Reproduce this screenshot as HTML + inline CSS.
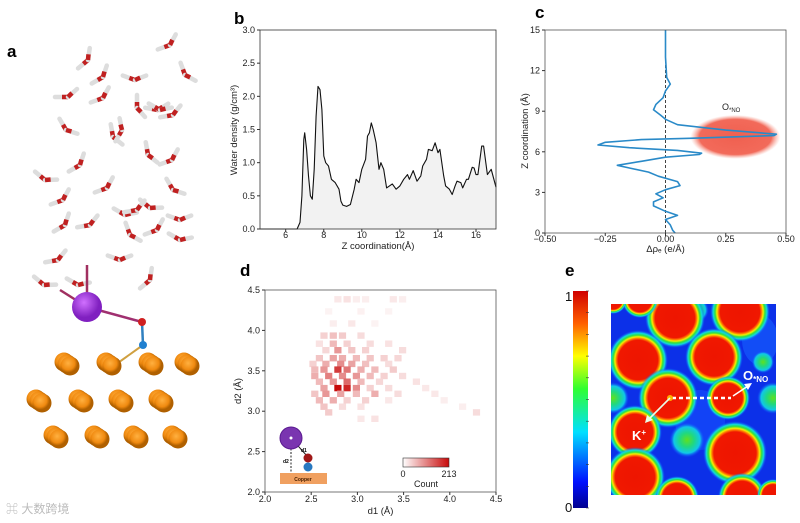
<!DOCTYPE html>
<html><head><meta charset="utf-8">
<style>
html,body{margin:0;padding:0;background:#fff;}
svg{display:block;font-family:"Liberation Sans","DejaVu Sans",sans-serif;}
.tk{font-size:9px;fill:#222;}
.lbl{font-size:9.5px;fill:#222;}
.pl{font-size:17px;font-weight:bold;fill:#000;}
</style></head>
<body>
<svg id="fig" width="800" height="523" viewBox="0 0 800 523">
<defs>
  <radialGradient id="blob">
    <stop offset="0" stop-color="#ee1500"/>
    <stop offset="0.66" stop-color="#f01800"/>
    <stop offset="0.72" stop-color="#ff7a00"/>
    <stop offset="0.77" stop-color="#f4f000"/>
    <stop offset="0.83" stop-color="#30e040"/>
    <stop offset="0.9" stop-color="#10d8e0"/>
    <stop offset="1" stop-color="#1040ff" stop-opacity="0"/>
  </radialGradient>
  <radialGradient id="gblob">
    <stop offset="0" stop-color="#60e020"/>
    <stop offset="0.4" stop-color="#20d880"/>
    <stop offset="0.75" stop-color="#10c8e8"/>
    <stop offset="1" stop-color="#1040ff" stop-opacity="0"/>
  </radialGradient>
  <radialGradient id="ellg">
    <stop offset="0" stop-color="#f06050"/>
    <stop offset="0.8" stop-color="#f26a5a"/>
    <stop offset="1" stop-color="#f8a090" stop-opacity="0"/>
  </radialGradient>
  <linearGradient id="jet" x1="0" y1="1" x2="0" y2="0">
    <stop offset="0" stop-color="#00008f"/>
    <stop offset="0.12" stop-color="#0010ff"/>
    <stop offset="0.35" stop-color="#00e0ff"/>
    <stop offset="0.55" stop-color="#30ff30"/>
    <stop offset="0.7" stop-color="#ffff00"/>
    <stop offset="0.85" stop-color="#ff6000"/>
    <stop offset="1" stop-color="#d00000"/>
  </linearGradient>
  <linearGradient id="reds" x1="0" x2="1">
    <stop offset="0" stop-color="#fff"/>
    <stop offset="1" stop-color="#c80a0a"/>
  </linearGradient>
  <radialGradient id="cu" cx="0.4" cy="0.35">
    <stop offset="0" stop-color="#ffb040"/>
    <stop offset="0.7" stop-color="#f08a10"/>
    <stop offset="1" stop-color="#b06000"/>
  </radialGradient>
  <radialGradient id="kball" cx="0.4" cy="0.35">
    <stop offset="0" stop-color="#d070ff"/>
    <stop offset="1" stop-color="#8020c0"/>
  </radialGradient>
  <clipPath id="eclip"><rect x="611" y="304" width="165" height="191"/></clipPath>
</defs>

<text class="pl" x="7" y="57">a</text>
<text class="pl" x="234" y="24">b</text>
<text class="pl" x="535" y="18">c</text>
<text class="pl" x="240" y="276">d</text>
<text class="pl" x="565" y="276">e</text>

<g id="pa"></g>
<g id="pb"></g>
<g id="pc"></g>
<g id="pd"></g>
<g id="pe"></g>

<text x="6" y="513" style="font-size:12px;fill:#bbb;font-family:'Liberation Sans','Noto Sans CJK SC',sans-serif">⌘ 大数跨境</text>
</svg>

<script>
const bZ = [4.65,6.6,6.75,6.85,6.95,7.0,7.1,7.2,7.3,7.4,7.5,7.6,7.7,7.8,7.9,8.0,8.1,8.25,8.4,8.6,8.8,8.9,9.0,9.2,9.4,9.6,9.7,9.85,10.0,10.2,10.3,10.4,10.5,10.6,10.75,10.9,11.0,11.15,11.3,11.6,11.8,12.0,12.2,12.4,12.5,12.7,12.9,13.1,13.2,13.4,13.5,13.7,13.85,14.0,14.1,14.3,14.4,14.6,14.75,14.9,15.0,15.2,15.3,15.5,15.6,15.8,15.9,16.0,16.1,16.3,16.4,16.6,16.8,17.05];
const bDensity = [0,0,0.1,0.5,1.35,1.45,1.2,0.8,0.5,0.45,0.9,1.7,2.15,2.1,1.8,1.1,1.0,0.95,0.75,0.7,0.6,0.42,0.36,0.34,0.37,0.6,0.75,0.7,0.9,1.05,1.4,1.45,1.6,1.5,1.3,0.9,1.0,0.9,0.62,0.68,0.6,0.65,0.75,0.82,0.75,0.88,0.72,0.8,0.95,1.05,1.2,1.18,1.3,1.15,1.2,0.8,0.65,0.6,0.52,0.65,0.72,0.7,0.62,0.75,0.75,0.93,0.92,0.82,0.82,1.25,1.25,0.82,0.9,0.63];
const bXTicks = [6,8,10,12,14,16];
const bYTicks = [0.0,0.5,1.0,1.5,2.0,2.5,3.0];

const cZ = [15,13,11.5,11,10.5,10,9.5,9.1,8.7,8.4,8.0,7.6,7.3,7.2,7.0,6.9,6.7,6.5,6.3,6.1,5.9,5.8,5.6,5.3,5.0,4.8,4.5,4.2,3.8,3.5,3.2,2.9,2.6,2.3,2.0,1.6,1.3,1.0,0.6,0.2,0];
const cRho = [0,0,0.005,0.02,0,-0.01,-0.04,-0.05,-0.02,0,0.05,0.25,0.46,0.45,0.1,-0.1,-0.25,-0.28,-0.15,0.05,0.15,0.14,0,-0.1,-0.2,-0.15,-0.07,-0.03,0.05,0.06,0,-0.04,-0.01,-0.05,-0.05,0,0.05,0,0.02,0.03,0.04];
const cXTicks = [-0.5,-0.25,0,0.25,0.5];
const cXLabels = ["\u22120.50","\u22120.25","0.00","0.25","0.50"];
const cYTicks = [0,3,6,9,12,15];

const dD1 = [2.75,2.85,2.95,3.05,3.35,3.45, 2.65,3.0,3.3, 2.7,2.9,3.15, 2.6,2.7,2.8,3.0, 2.55,2.7,2.85,3.1,3.3, 2.62,2.75,2.9,3.05,3.45, 2.55,2.7,2.8,2.95,3.1,3.25,3.4, 2.48,2.62,2.78,2.9,3.05,3.3, 2.5,2.6,2.75,2.85,3.0,3.15,3.35, 2.5,2.65,2.8,2.95,3.1,3.25,3.45, 2.55,2.7,2.85,3.0,3.2,3.6, 2.6,2.75,2.85,2.95,3.1,3.3,3.7, 2.5,2.62,2.78,2.95,3.15,3.4,3.8, 2.55,2.7,2.85,3.05,3.3,3.9, 2.6,2.8,3.0,4.1, 2.65,4.25, 3.0,3.15];
const dD2 = [4.35,4.35,4.35,4.35,4.35,4.35, 4.2,4.2,4.2, 4.05,4.05,4.05, 3.9,3.9,3.9,3.9, 3.8,3.8,3.8,3.8,3.8, 3.72,3.72,3.72,3.72,3.72, 3.62,3.62,3.62,3.62,3.62,3.62,3.62, 3.55,3.55,3.55,3.55,3.55,3.55, 3.48,3.48,3.48,3.48,3.48,3.48,3.48, 3.4,3.4,3.4,3.4,3.4,3.4,3.4, 3.33,3.33,3.33,3.33,3.33,3.33, 3.25,3.25,3.25,3.25,3.25,3.25,3.25, 3.18,3.18,3.18,3.18,3.18,3.18,3.18, 3.1,3.1,3.1,3.1,3.1,3.1, 3.02,3.02,3.02,3.02, 2.95,2.95, 2.87,2.87];
const dCount = [20,25,15,15,20,15, 10,12,10, 15,20,10, 40,55,45,30, 25,60,40,30,25, 35,90,50,40,30, 50,80,70,60,50,40,35, 40,70,100,80,55,30, 60,90,170,120,70,60,45, 70,110,100,90,60,40,30, 60,90,130,60,35,25, 80,213,190,100,40,30,20, 50,90,80,60,70,30,20, 60,70,40,40,20,15, 50,30,25,15, 45,30, 20,25];
const dTicks = [2.0,2.5,3.0,3.5,4.0,4.5];

const eBlobX = [675,740,640,638,714,668,728,635,735,635,677,742,613,773];
const eBlobY = [318,312,300,360,357,398,398,432,453,477,498,497,300,495];
const eBlobR = [30,30,18,30,29,30,22,27,32,30,22,24,14,16];
const eGreenX = [687,613,773,696,763];
const eGreenY = [440,398,398,310,362];
const eGreenR = [11,10,10,8,7];

const NS = "http://www.w3.org/2000/svg";
function mk(parent, tag, attrs, text){
  const e = document.createElementNS(NS, tag);
  for (const k in attrs) e.setAttribute(k, attrs[k]);
  if (text !== undefined) e.textContent = text;
  parent.appendChild(e);
  return e;
}

(function(){
  const g = document.getElementById('pb');
  const L=260,R=496,T=30,B=229, xmin=4.65,xmax=17.05,ymin=0,ymax=3;
  const X=v=>L+(v-xmin)/(xmax-xmin)*(R-L), Y=v=>B-(v-ymin)/(ymax-ymin)*(B-T);
  let d = '';
  bZ.forEach((z,i)=>{ d += (i?'L':'M')+X(z).toFixed(1)+','+Y(bDensity[i]).toFixed(1); });
  const fill = mk(g,'path',{d:d+'L'+X(bZ[bZ.length-1])+','+B+'L'+X(bZ[0])+','+B+'Z',fill:'#f2f2f2',stroke:'none'});
  
  
  const line = mk(g,'path',{d:d,fill:'none',stroke:'#111','stroke-width':1.1,'stroke-linejoin':'round'});
  
  
  const fr = mk(g,'rect',{x:L,y:T,width:R-L,height:B-T,fill:'none',stroke:'#333','stroke-width':0.8});
  
  
  bXTicks.forEach(t=>{
    mk(g,'line',{x1:X(t),x2:X(t),y1:B,y2:B+3,stroke:'#333'});
    const tx = mk(g,'text',{x:X(t),y:B+9,'text-anchor':'middle',class:'tk'},String(t));
    
    
  });
  bYTicks.forEach(t=>{
    mk(g,'line',{x1:L-3,x2:L,y1:Y(t),y2:Y(t),stroke:'#333'});
    const tx = mk(g,'text',{x:L-5,y:Y(t)+3,'text-anchor':'end',class:'tk'},t.toFixed(1));
    
    
  });
  const xl = mk(g,'text',{x:(L+R)/2,y:249,'text-anchor':'middle',class:'lbl'},'Z coordination(Å)');
  
  
  const yl = mk(g,'text',{x:0,y:0,'text-anchor':'middle',class:'lbl',transform:'translate(237,130) rotate(-90)'},'Water density (g/cm³)');
  
  
})();

(function(){
  const g = document.getElementById('pc');
  const L=545,R=786,T=30,B=233, xmin=-0.5,xmax=0.5,ymin=0,ymax=15;
  const X=v=>L+(v-xmin)/(xmax-xmin)*(R-L), Y=v=>B-(v-ymin)/(ymax-ymin)*(B-T);
  const el = mk(g,'ellipse',{cx:X(0.29),cy:Y(7.1),rx:45,ry:22,fill:'url(#ellg)'});
  
  
  const dash = mk(g,'line',{x1:X(0),x2:X(0),y1:T,y2:B,stroke:'#444','stroke-width':1,'stroke-dasharray':'3,2'});
  
  
  let d='';
  cZ.forEach((z,i)=>{ d += (i?'L':'M')+X(cRho[i]).toFixed(1)+','+Y(z).toFixed(1); });
  const ln = mk(g,'path',{d:d,fill:'none',stroke:'#2a8ac8','stroke-width':1.6,'stroke-linejoin':'round'});
  
  
  const fr = mk(g,'rect',{x:L,y:T,width:R-L,height:B-T,fill:'none',stroke:'#555','stroke-width':0.8});
  
  
  cXTicks.forEach((t,i)=>{
    mk(g,'line',{x1:X(t),x2:X(t),y1:B,y2:B+3,stroke:'#333'});
    const tx = mk(g,'text',{x:X(t),y:B+9,'text-anchor':'middle',class:'tk'},cXLabels[i]);
    
    
  });
  cYTicks.forEach(t=>{
    mk(g,'line',{x1:L-3,x2:L,y1:Y(t),y2:Y(t),stroke:'#333'});
    const tx = mk(g,'text',{x:L-5,y:Y(t)+3,'text-anchor':'end',class:'tk'},String(t));
    
    
  });
  const xl = mk(g,'text',{x:(L+R)/2,y:252,'text-anchor':'middle',class:'lbl'},'Δρₑ (e/Å)');
  
  
  const yl = mk(g,'text',{x:0,y:0,'text-anchor':'middle',class:'lbl',transform:'translate(528,131) rotate(-90)'},'Z coordination (Å)');
  
  
  const on = mk(g,'text',{x:722,y:110,class:'tk'},'O');
  
  
  mk(on,'tspan',{'font-size':'6','dy':'2'},'*NO');
})();

(function(){
  const g = document.getElementById('pd');
  const L=265,R=496,T=290,B=492, lo=2.0,hi=4.5, bw=0.075;
  const X=v=>L+(v-lo)/(hi-lo)*(R-L), Y=v=>B-(v-lo)/(hi-lo)*(B-T);
  const maxC = 213;
  dD1.forEach((d1,i)=>{
    const f = Math.min(1,dCount[i]/maxC);
    const r = Math.round(255-(255-200)*f), gg=Math.round(255-(255-10)*f), b=Math.round(255-(255-10)*f);
    const c = mk(g,'rect',{x:X(d1).toFixed(1),y:Y(dD2[i]+bw).toFixed(1),width:((R-L)*bw/(hi-lo)+0.3).toFixed(1),height:((B-T)*bw/(hi-lo)+0.3).toFixed(1),fill:`rgb(${r},${gg},${b})`});
    
    
  });
  const fr = mk(g,'rect',{x:L,y:T,width:R-L,height:B-T,fill:'none',stroke:'#555','stroke-width':0.8});
  
  
  dTicks.forEach(t=>{
    mk(g,'line',{x1:X(t),x2:X(t),y1:B,y2:B+3,stroke:'#333'});
    const tx = mk(g,'text',{x:X(t),y:B+10,'text-anchor':'middle',class:'tk'},t.toFixed(1));
    
    
    mk(g,'line',{x1:L-3,x2:L,y1:Y(t),y2:Y(t),stroke:'#333'});
    const ty = mk(g,'text',{x:L-5,y:Y(t)+3,'text-anchor':'end',class:'tk'},t.toFixed(1));
    
    
  });
  const xl = mk(g,'text',{x:(L+R)/2,y:514,'text-anchor':'middle',class:'lbl'},'d1 (Å)');
  
  
  const yl = mk(g,'text',{x:0,y:0,'text-anchor':'middle',class:'lbl',transform:'translate(241,391) rotate(-90)'},'d2 (Å)');
  
  
  const cb = mk(g,'rect',{x:403,y:458,width:46,height:9,fill:'url(#reds)',stroke:'#333','stroke-width':0.6});
  
  
  mk(g,'text',{x:403,y:477,'text-anchor':'middle',class:'tk','font-size':'8'},'0');
  mk(g,'text',{x:449,y:477,'text-anchor':'middle',class:'tk','font-size':'8'},'213');
  const cl = mk(g,'text',{x:426,y:487,'text-anchor':'middle',class:'tk','font-size':'8'},'Count');
  
  
  const ins = mk(g,'g',{});
  
  
  mk(ins,'rect',{x:280,y:473,width:47,height:11,fill:'#f0a060'});
  mk(ins,'text',{x:303,y:481,'text-anchor':'middle','font-size':'5','font-weight':'bold',fill:'#4a2000'},'Copper');
  mk(ins,'line',{x1:291,y1:438,x2:291,y2:473,stroke:'#222','stroke-dasharray':'2,1.5'});
  mk(ins,'line',{x1:291,y1:438,x2:307,y2:456,stroke:'#222'});
  mk(ins,'circle',{cx:291,cy:438,r:11,fill:'#7a35b0',stroke:'#5a1a90'});
  mk(ins,'circle',{cx:291,cy:438,r:1.5,fill:'#fff'});
  mk(ins,'circle',{cx:308,cy:458,r:4.5,fill:'#a01818'});
  mk(ins,'circle',{cx:308,cy:467,r:4.5,fill:'#2878c0'});
  mk(ins,'text',{x:283,y:463,'font-size':'5','font-weight':'bold'},'d2');
  mk(ins,'text',{x:301,y:452,'font-size':'5','font-weight':'bold'},'d1');
})();

(function(){
  const g = document.getElementById('pe');
  const cb = mk(g,'rect',{x:573,y:291,width:15,height:217,fill:'url(#jet)'});
  
  
  for(let i=0;i<=10;i++) mk(g,'line',{x1:586,x2:589,y1:291+i*21.7,y2:291+i*21.7,stroke:'#333','stroke-width':0.6});
  mk(g,'text',{x:565,y:301,'font-size':'13',fill:'#111'},'1');
  mk(g,'text',{x:565,y:512,'font-size':'13',fill:'#111'},'0');
  const m = mk(g,'g',{'clip-path':'url(#eclip)'});
  
  
  mk(m,'rect',{x:611,y:304,width:165,height:191,fill:'#0c30e8'});
  mk(m,'ellipse',{cx:700,cy:420,rx:25,ry:30,fill:'#1850ff',opacity:0.6});
  mk(m,'ellipse',{cx:760,cy:340,rx:18,ry:25,fill:'#1860ff',opacity:0.6});
  eGreenX.forEach((x,i)=>{
    const c = mk(m,'circle',{cx:x,cy:eGreenY[i],r:eGreenR[i]*1.6,fill:'url(#gblob)'});
    
    
  });
  eBlobX.forEach((x,i)=>{
    const c = mk(m,'circle',{cx:x,cy:eBlobY[i],r:eBlobR[i],fill:'url(#blob)'});
    
    
  });
  mk(m,'line',{x1:672,y1:398,x2:731,y2:398,stroke:'#fff','stroke-width':2.5,'stroke-dasharray':'4,3'});
  mk(m,'circle',{cx:670,cy:398,r:3,fill:'#ffb000'});
  mk(m,'line',{x1:670,y1:398,x2:648,y2:420,stroke:'#e8ffe8','stroke-width':1.6});
  mk(m,'path',{d:'M645,423 L647,415 L653,420 Z',fill:'#e8ffe8'});
  mk(m,'line',{x1:733,y1:396,x2:748,y2:386,stroke:'#fff','stroke-width':1.6});
  mk(m,'path',{d:'M752,383 L744,384 L748,390 Z',fill:'#fff'});
  const k = mk(m,'text',{x:632,y:440,'font-size':'13','font-weight':'bold',fill:'#fff'},'K');
  
  
  mk(k,'tspan',{'font-size':'8',dy:'-5'},'+');
  const o = mk(m,'text',{x:743,y:380,'font-size':'13','font-weight':'bold',fill:'#fff'},'O');
  
  
  mk(o,'tspan',{'font-size':'8',dy:'2'},'*NO');
})();

(function(){
  const g = document.getElementById('pa');
  const wx=[88,170,103,135,158,185,68,103,137,160,173,66,113,122,80,148,172,45,107,150,173,63,125,137,180,65,90,157,130,180,58,120,150,78,44];
  const wy=[60,45,77,80,110,75,97,98,108,110,115,130,137,130,165,155,160,180,188,208,190,200,215,210,220,225,225,230,235,240,260,260,280,285,285];
  const wa=[-40,-20,-30,20,10,70,0,-20,90,30,-10,60,80,-60,-30,80,-20,40,-20,40,60,-20,30,-10,20,-30,-10,-20,70,30,-10,20,-40,30,40];
  wx.forEach((x,i)=>{
    const w = mk(g,'g',{transform:`translate(${x},${wy[i]}) rotate(${wa[i]})`});
    
    
    mk(w,'line',{x1:-13,y1:0,x2:0,y2:0,stroke:'#ddd','stroke-width':4.5,'stroke-linecap':'round'});
    mk(w,'line',{x1:-6,y1:0,x2:0,y2:0,stroke:'#c02020','stroke-width':4.5});
    mk(w,'line',{x1:0,y1:0,x2:9,y2:-8,stroke:'#ddd','stroke-width':4.5,'stroke-linecap':'round'});
    mk(w,'line',{x1:0,y1:0,x2:4,y2:-4,stroke:'#c02020','stroke-width':4.5});
  });
  mk(g,'line',{x1:87,y1:307,x2:87,y2:265,stroke:'#a03060','stroke-width':2.5});
  mk(g,'line',{x1:87,y1:307,x2:142,y2:322,stroke:'#a03070','stroke-width':2.5});
  mk(g,'line',{x1:87,y1:307,x2:60,y2:290,stroke:'#a03060','stroke-width':2.5});
  mk(g,'line',{x1:142,y1:322,x2:143,y2:345,stroke:'#3080c0','stroke-width':2.5});
  mk(g,'line',{x1:143,y1:345,x2:115,y2:365,stroke:'#d0a040','stroke-width':2});
  const k = mk(g,'circle',{cx:87,cy:307,r:15,fill:'url(#kball)'});
  
  
  mk(g,'circle',{cx:142,cy:322,r:4,fill:'#d02020'});
  mk(g,'circle',{cx:143,cy:345,r:4,fill:'#2080d0'});
  const cx=[68,110,152,188, 40,82,122,162, 57,98,137,176];
  const cy=[365,365,365,365, 402,402,402,402, 438,438,438,438];
  cx.forEach((x,i)=>{
    for(let j=0;j<3;j++){
      const c = mk(g,'circle',{cx:x-4+j*3,cy:cy[i]-3+j*2,r:9.5,fill:'url(#cu)'});
      
      
    }
  });
})();
</script>
</body></html>
